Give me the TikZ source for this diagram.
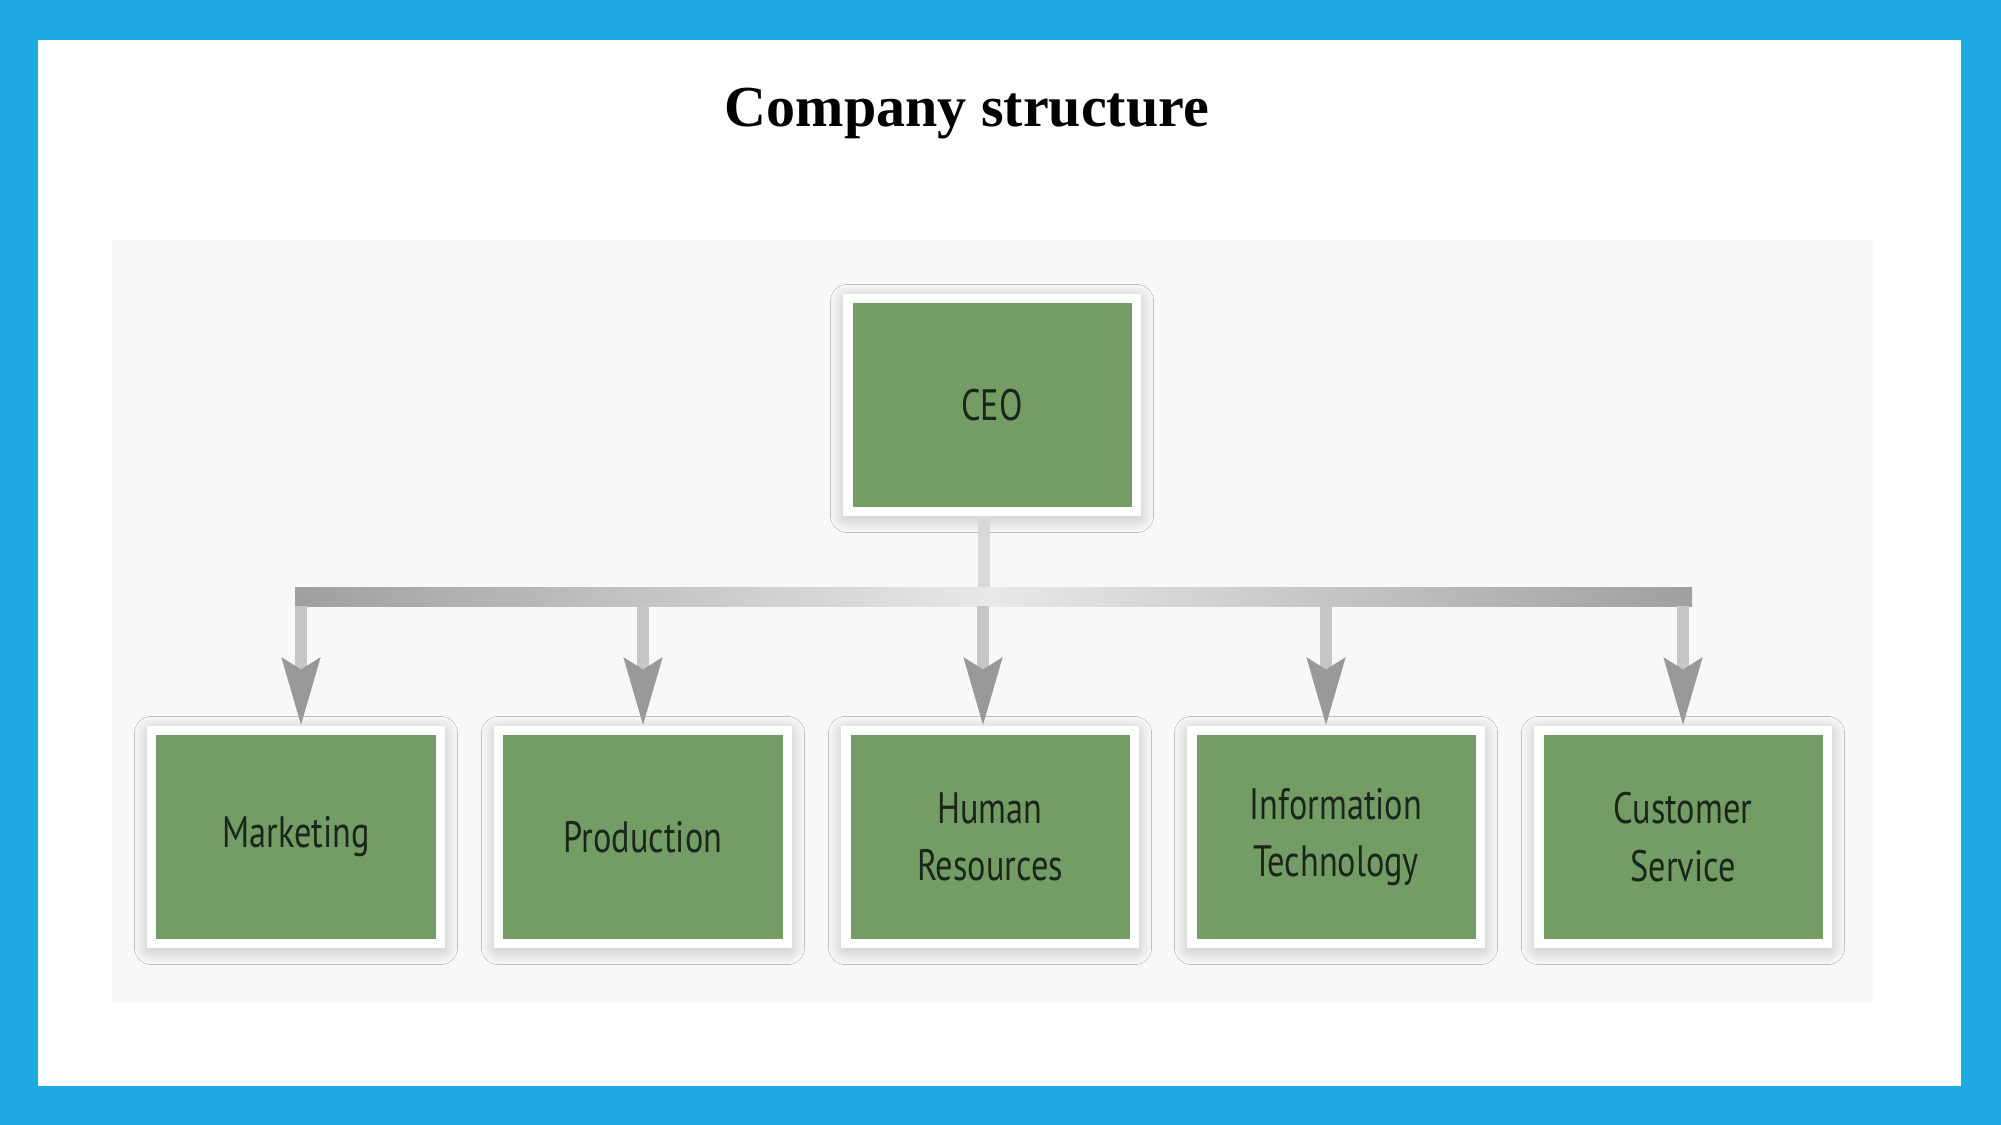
\documentclass[tikz,border=0pt]{standalone}
\usepackage{fontspec}
\setmainfont{Liberation Serif}
\newfontfamily\unitfont[FakeStretch=0.78]{PT Sans}
\usetikzlibrary{arrows.meta,shadows.blur}
\definecolor{frameblue}{RGB}{30,170,226}
\definecolor{unitgreen}{RGB}{116,157,101}
\definecolor{panelgray}{RGB}{248,248,248}
\definecolor{unittext}{RGB}{26,38,26}
\begin{document}
\begin{tikzpicture}[x=0.01cm,y=-0.01cm,
    unit/.style={draw=white,line width=2.6pt,fill=unitgreen,minimum width=2.88cm,minimum height=2.13cm,
      align=center,text=unittext,font=\unitfont\fontsize{12.5}{16.3}\selectfont,
      blur shadow={shadow xshift=0pt,shadow yshift=-1pt,shadow blur radius=5pt,shadow blur steps=24,shadow opacity=30}},
    feed/.style={line width=3.4pt,draw=gray!45,-{Stealth[length=19pt,width=10.5pt,inset=3pt,color=gray!80]}},
    stub/.style={line width=3.4pt,draw=gray!30}]
    \useasboundingbox (0,0) rectangle (2001,1125);
    % frame and panel
    \fill[frameblue] (0,0) rectangle (2001,1125);
    \fill[white] (38,40) rectangle (1961,1086);
    \fill[panelgray] (112,240) rectangle (1873,1002);
    \node[font=\bfseries\fontsize{16.5}{20}\selectfont] (title) at (967,114) {Company structure};
    % units
    \node[unit] (ceo) at (992,405) {CEO};
    \node[unit] (mkt) at (296,837) {Marketing};
    \node[unit] (prod) at (643,837) {Production};
    \node[unit] (hr) at (990,837) {Human\\Resources};
    \node[unit] (it) at (1336,837) {Information\\Technology};
    \node[unit] (cs) at (1683,837) {Customer\\Service};
    % connectors
    \coordinate (barl) at (295,587);
    \coordinate (barr) at (1692,606);
    \coordinate (bar) at (990,606);
    \draw[stub] ([xshift=-0.08cm]ceo.south) -- ([xshift=-0.08cm]ceo.south |- barl);
    \shade[left color=gray!75,right color=gray!75,middle color=gray!18] (barl) rectangle (barr);
    \draw[feed] ([xshift=0.05cm]mkt.north |- bar) -- ([xshift=0.05cm]mkt.north);
    \draw[feed] (prod.north |- bar) -- (prod.north);
    \draw[feed] ([xshift=-0.07cm]hr.north |- bar) -- ([xshift=-0.07cm]hr.north);
    \draw[feed] ([xshift=-0.1cm]it.north |- bar) -- ([xshift=-0.1cm]it.north);
    \draw[feed] (cs.north |- bar) -- (cs.north);
\end{tikzpicture}
\end{document}
